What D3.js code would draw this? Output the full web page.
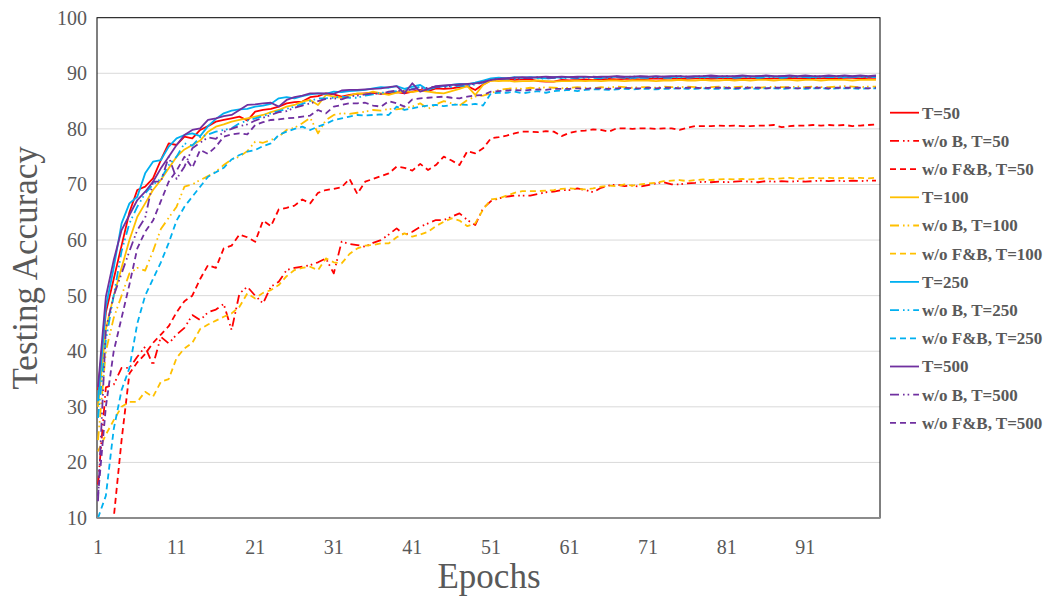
<!DOCTYPE html>
<html>
<head>
<meta charset="utf-8">
<script src="https://cdn.jsdelivr.net/npm/d3@7"></script>
<style>
  body { margin: 0; background: #fff; }
  svg { display: block; font-family: "Liberation Serif", "Times New Roman", serif; }
</style>
</head>
<body>
<svg id="chart" width="1048" height="597"></svg>
<script>
// epochs 1..100
var epochs = d3.range(1, 101);
var xTicks = [1, 11, 21, 31, 41, 51, 61, 71, 81, 91];
var yTicks = [10, 20, 30, 40, 50, 60, 70, 80, 90, 100];

// T=50
var s50 = [33, 47, 53, 59, 65, 69, 69.6, 71.1, 74.4, 77.4,
  77.1, 78.6, 78.3, 79.8, 80.5, 81.3, 81.6, 81.9, 82.2, 81.5,
  83.1, 83.4, 83.6, 84, 84.6, 84.8, 84.9, 85.7, 85.9, 86.4,
  86.2, 85.8, 86.1, 86.3, 86.4, 86.5, 86.3, 86.4, 86.6, 86.4,
  86.7, 87, 86.8, 87.3, 87.2, 87.3, 87.5, 87.7, 87, 88,
  88.7, 88.9, 89, 88.8, 88.9, 88.9, 88.6, 88.5, 88.5, 88.8,
  88.7, 88.8, 88.9, 88.8, 88.9, 89, 88.9, 89, 89, 88.9,
  89, 89.1, 89, 89.1, 89, 89, 89.1, 89.1, 89, 89.1,
  89.1, 89, 89.1, 89.1, 89.1, 89, 89.1, 89.1, 89.2, 89.1,
  89.1, 89.2, 89.1, 89.2, 89.1, 89.2, 89.2, 89.1, 89.2, 89.2];
var b50 = [16, 33.5, 34, 37, 37, 39, 40.8, 37.5, 42.6, 41.4,
  43, 44.2, 46.5, 45.6, 47, 47.5, 48.5, 43.8, 50.4, 51.6,
  50, 48.6, 51.6, 52.5, 54.6, 55, 55.2, 55.5, 56, 56.7,
  54, 59.7, 59.3, 59.1, 58.8, 59.5, 60, 61, 62.1, 60.9,
  61.5, 62.4, 63, 63.6, 63.6, 64.2, 64.8, 63.6, 62.7, 65.7,
  67, 67.5, 67.8, 68, 68, 68, 68.3, 68.6, 68.7, 69,
  69, 69.3, 69, 68.6, 69.4, 69.8, 70, 69.7, 69.8, 69.6,
  69.9, 70.2, 70.4, 70, 70, 70.2, 70.3, 70.5, 70.4, 70.5,
  70.4, 70.5, 70.6, 70.5, 70.4, 70.6, 70.5, 70.6, 70.5, 70.6,
  70.5, 70.6, 70.7, 70.6, 70.7, 70.6, 70.7, 70.6, 70.7, 70.7];
var f50 = [10, 10, 10, 24, 36, 38, 39.5, 41.5, 43, 44.5,
  47, 49, 50, 53, 55.5, 55, 58.5, 59, 61, 60.5,
  59.7, 63.5, 62.5, 65.5, 65.8, 66.2, 67.3, 66.6, 68.5, 69,
  69.2, 69.5, 71, 68.3, 70.5, 71, 71.5, 72, 73.2, 73,
  72.5, 73.7, 72.6, 73.5, 75, 74.3, 73.5, 76, 75.6, 76.5,
  78.3, 78.5, 78.8, 79.2, 79.5, 79.5, 79.4, 79.6, 79.5, 78.7,
  79.3, 79.6, 79.7, 79.9, 79.8, 79.5, 80.1, 80.1, 80, 80.1,
  80.1, 80, 80.1, 80.1, 79.8, 80.2, 80.5, 80.5, 80.5, 80.6,
  80.5, 80.6, 80.5, 80.5, 80.6, 80.6, 80.7, 80.3, 80.5, 80.6,
  80.6, 80.7, 80.6, 80.7, 80.6, 80.7, 80.5, 80.6, 80.7, 80.8];

// T=100
var s100 = [30, 44, 50, 55, 60, 64.2, 66.6, 69, 70.8, 72.9,
  75, 76.3, 77.1, 77.9, 79.5, 80.4, 80.8, 81.3, 81.6, 81.9,
  82.2, 82.5, 83, 83.4, 84, 84.3, 84.9, 85.2, 84.3, 86.1,
  85.8, 85.6, 86, 86.4, 86.3, 86.7, 86.4, 86.1, 86.5, 86.8,
  86.6, 86.9, 86.7, 86.5, 86.4, 86.8, 87.2, 87.7, 86.1, 87.9,
  88.7, 88.6, 88.7, 88.5, 88.6, 88.6, 88.7, 88.6, 88.5, 88.6,
  88.6, 88.7, 88.6, 88.7, 88.6, 88.7, 88.7, 88.6, 88.7, 88.7,
  88.7, 88.6, 88.7, 88.7, 88.8, 88.7, 88.7, 88.8, 88.7, 88.7,
  88.8, 88.7, 88.8, 88.7, 88.8, 88.8, 88.7, 88.8, 88.8, 88.7,
  88.8, 88.8, 88.7, 88.8, 88.8, 88.8, 88.7, 88.8, 88.8, 88.8];
var b100 = [24, 40, 46, 50, 54, 55, 54.5, 58, 62, 64,
  66, 69.6, 70, 70.8, 71.5, 72.3, 73.5, 74.5, 75, 76,
  77.7, 77.5, 78, 78.6, 79.8, 80.2, 81, 82, 79.2, 81.6,
  82.5, 82.8, 82.7, 82.9, 83.1, 83.4, 83.3, 83.6, 83.5, 83.7,
  84, 84.6, 83.6, 84.4, 85, 84.6, 84.2, 85.2, 85.8, 86,
  86.4, 87, 87.2, 87.3, 87.2, 87.4, 87.3, 87.5, 87.4, 87.3,
  87.4, 87.5, 87.4, 87.3, 87.5, 87.4, 87.6, 87.5, 87.4, 87.5,
  87.5, 87.4, 87.6, 87.5, 87.5, 87.6, 87.5, 87.4, 87.5, 87.6,
  87.5, 87.5, 87.6, 87.5, 87.4, 87.5, 87.6, 87.5, 87.5, 87.6,
  87.5, 87.6, 87.5, 87.5, 87.6, 87.7, 87.6, 87.5, 87.6, 87.6];
var f100 = [22, 25, 27.6, 30, 30.9, 30.9, 32.7, 31.8, 34.5, 35,
  38.8, 40.5, 41.5, 44, 44.8, 45.5, 46.2, 46.8, 48, 50.4,
  49.5, 50.5, 51, 51.9, 53.5, 54.6, 55, 55.2, 54.6, 56.7,
  56, 55.8, 57.5, 58.5, 59, 59.1, 59.4, 59.4, 60.5, 61.2,
  60.6, 61, 61.5, 62.5, 63.3, 63.9, 63.5, 62.5, 63, 65.5,
  67.3, 67.5, 68, 68.5, 68.8, 68.8, 68.8, 68.9, 69, 69.2,
  69.3, 69.2, 69.1, 69.3, 69.6, 69.8, 69.7, 70, 69.8, 70,
  70.2, 70.3, 70.6, 70.7, 70.8, 70.6, 70.8, 70.9, 70.8, 70.9,
  71, 70.9, 71, 70.9, 71, 71.1, 71, 71.1, 71.2, 71,
  71.1, 71.2, 71.1, 71.2, 71.1, 71.2, 71.1, 71.2, 71.1, 71.2];

// T=250
var s250 = [31, 48, 55, 63, 66.6, 67.8, 72, 74.1, 74.4, 76.8,
  78.3, 78.9, 79.2, 78.7, 80.5, 81.8, 82.8, 83.3, 83.5, 83.6,
  84, 84.2, 84.5, 85.5, 85.7, 85.5, 85.9, 86.2, 86.4, 86.3,
  86.7, 86.6, 86.8, 86.9, 87, 87.3, 87.5, 87.4, 87.7, 87.2,
  87.6, 87.9, 87, 87.6, 87.7, 87.9, 88.1, 88, 88.3, 88.7,
  89.1, 89.2, 89.1, 89.3, 89.2, 89.3, 89.2, 89.1, 89.3, 89.2,
  89.3, 89.2, 89.3, 89.3, 89.2, 89.3, 89.4, 89.3, 89.2, 89.3,
  89.3, 89.4, 89.3, 89.3, 89.4, 89.3, 89.4, 89.3, 89.4, 89.3,
  89.4, 89.3, 89.4, 89.4, 89.3, 89.4, 89.4, 89.3, 89.4, 89.4,
  89.4, 89.3, 89.4, 89.4, 89.4, 89.3, 89.4, 89.4, 89.4, 89.4];
var b250 = [28, 42, 50, 58, 63, 66, 68.4, 70, 71, 73.5,
  75, 77.4, 77, 78.5, 79, 79.5, 79.8, 80.1, 81, 81.5,
  81.9, 82.3, 82.8, 83.2, 83.6, 84, 84.5, 85, 85.5, 85.5,
  85.6, 85.8, 85.6, 85.6, 86, 86.2, 86.5, 86.6, 86.8, 87,
  87.2, 87.6, 87.1, 87.5, 87.7, 87.5, 87.8, 87.7, 88, 88.3,
  88.9, 89, 89.1, 89, 89.1, 89.2, 89.1, 89, 89.2, 89.1,
  89.2, 89.1, 89.2, 89.2, 89.1, 89.2, 89.3, 89.2, 89.1, 89.2,
  89.2, 89.3, 89.2, 89.2, 89.3, 89.2, 89.3, 89.2, 89.3, 89.2,
  89.3, 89.2, 89.3, 89.3, 89.2, 89.3, 89.3, 89.2, 89.3, 89.3,
  89.3, 89.2, 89.3, 89.3, 89.3, 89.2, 89.3, 89.3, 89.3, 89.3];
var f250 = [10, 14, 26, 33, 37, 45, 50, 53, 56, 59.5,
  63.5, 66, 67.8, 69.6, 71.4, 72.2, 73, 74.5, 75.3, 75.9,
  76.2, 76.9, 77.4, 78.9, 79.5, 80, 80.4, 79.8, 80.4, 80.9,
  81.6, 81.9, 82.2, 82.5, 82.4, 82.5, 82.6, 82.5, 84, 83.4,
  83.7, 84, 84.2, 84.3, 84.1, 84.3, 84.4, 84.3, 84.5, 84.2,
  86.4, 86.5, 86.5, 86.7, 86.4, 86.6, 86.8, 86.5, 86.8, 86.9,
  87, 86.8, 87, 87.1, 87.1, 87, 87.1, 87.2, 87.1, 87.2,
  87.2, 87.1, 87.2, 87.2, 87.3, 87.2, 87.2, 87.3, 87.2, 87.2,
  87.3, 87.2, 87.2, 87.3, 87.2, 87.3, 87.3, 87.2, 87.3, 87.3,
  87.2, 87.3, 87.3, 87.2, 87.3, 87.3, 87.3, 87.2, 87.3, 87.3];

// T=500
var s500 = [33.6, 49.8, 56.4, 61.8, 64.5, 67.2, 68.7, 70.5, 72.9, 75,
  77.1, 78.9, 79.8, 80.1, 81.6, 81.9, 82.3, 82.5, 83.4, 84.3,
  84.4, 84.6, 84.7, 84, 85.2, 85.7, 86, 86.4, 86.4, 86.4,
  86.3, 86.9, 87, 87, 87.1, 87.2, 87.3, 87.5, 87.7, 86.4,
  88.2, 86.7, 87.2, 87.7, 87.8, 87.9, 88, 88.1, 88.2, 88.4,
  88.8, 89, 89.1, 89.2, 89.3, 89.2, 89.3, 89.4, 89.3, 89.4,
  89.3, 89.4, 89.4, 89.3, 89.4, 89.4, 89.5, 89.4, 89.4, 89.5,
  89.4, 89.5, 89.4, 89.5, 89.5, 89.4, 89.5, 89.5, 89.6, 89.5,
  89.5, 89.5, 89.6, 89.5, 89.5, 89.6, 89.5, 89.5, 89.6, 89.5,
  89.6, 89.5, 89.5, 89.6, 89.5, 89.6, 89.5, 89.6, 89.5, 89.6];
var b500 = [13, 44, 50, 54, 58, 61.8, 64, 70.5, 70.5, 75,
  71, 73.2, 76.5, 77.5, 78.5, 78.2, 79.5, 80, 80.5, 80.8,
  81.5, 82, 82.5, 83, 83.2, 83.8, 84.2, 84.6, 85, 85.4,
  85.5, 85.3, 85.8, 86, 86.2, 86.4, 86.3, 86.7, 86.9, 86.8,
  87.1, 87.3, 87.4, 87.6, 87.5, 87.7, 87.9, 88, 88.1, 88.4,
  88.8, 89, 89.1, 89.2, 89.1, 89.2, 89.3, 89.2, 89.2, 89.3,
  89.3, 89.2, 89.3, 89.4, 89.3, 89.3, 89.4, 89.3, 89.4, 89.4,
  89.4, 89.3, 89.4, 89.4, 89.5, 89.4, 89.4, 89.5, 89.4, 89.4,
  89.5, 89.4, 89.5, 89.4, 89.5, 89.5, 89.4, 89.5, 89.5, 89.4,
  89.5, 89.5, 89.4, 89.5, 89.5, 89.5, 89.4, 89.5, 89.5, 89.5];
var f500 = [14, 30, 40, 46, 52, 58.5, 61.5, 63.5, 67, 70.5,
  72.5, 75, 73, 76.2, 75.5, 76.8, 78.6, 79, 79.2, 79,
  80.7, 81.2, 81.6, 81.7, 81.9, 82, 82.2, 82.4, 83.4, 82.8,
  84, 84.3, 84.6, 84.6, 84.7, 84.2, 84, 85, 84.6, 84,
  85.3, 85.5, 85.6, 85.7, 85.8, 85.6, 85.5, 85.8, 86, 86.1,
  86.7, 86.8, 86.9, 87, 86.9, 87, 87.1, 87, 87.2, 87.2,
  87.2, 87.3, 87.2, 87.3, 87.3, 87.2, 87.3, 87.4, 87.3, 87.3,
  87.4, 87.3, 87.4, 87.4, 87.3, 87.4, 87.4, 87.3, 87.4, 87.4,
  87.4, 87.3, 87.4, 87.4, 87.4, 87.3, 87.4, 87.4, 87.4, 87.3,
  87.4, 87.4, 87.4, 87.3, 87.4, 87.4, 87.4, 87.4, 87.3, 87.4];

var seriesNames = ["T=50", "w/o B, T=50", "w/o F&B, T=50",
  "T=100", "w/o B, T=100", "w/o F&B, T=100",
  "T=250", "w/o B, T=250", "w/o F&B, T=250",
  "T=500", "w/o B, T=500", "w/o F&B, T=500"];
var seriesValues = [s50, b50, f50, s100, b100, f100, s250, b250, f250, s500, b500, f500];
var seriesColors = ["#ff0000", "#ff0000", "#ff0000", "#ffc000", "#ffc000", "#ffc000",
  "#00b0f0", "#00b0f0", "#00b0f0", "#7030a0", "#7030a0", "#7030a0"];
// solid / long dash dot dot / dash
var dashes = [null, "9,4,1.6,3,1.6,4", "6,4"];

var svg = d3.select("#chart");
// plot box (note: "top" is taken by window.top, so prefix these)
var plotL = 97, plotR = 880, plotT = 17.7, plotB = 518;
var textColor = "#595959";

var x = d3.scaleLinear().domain([1, 100]).range([98, 876]);
var y = d3.scaleLinear().domain([10, 100]).range([plotB, plotT]);

// gridlines
svg.append("g").selectAll("line")
  .data(yTicks.filter(function(d) { return d > 10 && d < 100; }))
  .enter().append("line")
  .attr("x1", plotL).attr("x2", plotR)
  .attr("y1", function(d) { return y(d); })
  .attr("y2", function(d) { return y(d); })
  .attr("stroke", "#d9d9d9").attr("stroke-width", 1);

// plot frame
svg.append("rect")
  .attr("x", plotL).attr("y", plotT)
  .attr("width", plotR - plotL).attr("height", plotB - plotT)
  .attr("fill", "none").attr("stroke", "#000").attr("stroke-width", 1);

// lines
var line = d3.line()
  .x(function(d, i) { return x(epochs[i]); })
  .y(function(d) { return y(d); });

var plot = svg.append("g");
seriesValues.forEach(function(vals, k) {
  plot.append("path")
    .datum(vals)
    .attr("d", line)
    .attr("fill", "none")
    .attr("stroke", seriesColors[k])
    .attr("stroke-width", 1.8)
    .attr("stroke-linejoin", "round")
    .attr("stroke-dasharray", dashes[k % 3]);
});

// bottom axis line (grey, drawn over the frame)
svg.append("line")
  .attr("x1", plotL).attr("x2", plotR)
  .attr("y1", plotB).attr("y2", plotB)
  .attr("stroke", "#8c8c8c").attr("stroke-width", 2);

// tick labels
svg.append("g").selectAll("text")
  .data(yTicks).enter().append("text")
  .attr("x", 87)
  .attr("y", function(d) { return y(d); })
  .attr("dy", "0.35em")
  .attr("text-anchor", "end")
  .attr("fill", textColor)
  .style("font-size", "20px")
  .text(function(d) { return d; });

svg.append("g").selectAll("text")
  .data(xTicks).enter().append("text")
  .attr("x", function(d) { return x(d); })
  .attr("y", 554)
  .attr("text-anchor", "middle")
  .attr("fill", textColor)
  .style("font-size", "20px")
  .text(function(d) { return d; });

// axis titles
svg.append("text")
  .attr("x", 489).attr("y", 588)
  .attr("text-anchor", "middle")
  .attr("fill", textColor)
  .style("font-size", "35px")
  .text("Epochs");

svg.append("text")
  .attr("transform", "translate(37," + ((plotT + plotB) / 2) + ") rotate(-90)")
  .attr("text-anchor", "middle")
  .attr("fill", textColor)
  .style("font-size", "35px")
  .text("Testing Accuracy");

// legend
var legend = svg.append("g");
seriesNames.forEach(function(name, k) {
  var ly = 112.7 + k * 28.2;
  legend.append("line")
    .attr("x1", 890).attr("x2", 919)
    .attr("y1", ly).attr("y2", ly)
    .attr("stroke", seriesColors[k])
    .attr("stroke-width", 1.8)
    .attr("stroke-dasharray", dashes[k % 3]);
  legend.append("text")
    .attr("x", 922).attr("y", ly)
    .attr("dy", "0.35em")
    .attr("fill", textColor)
    .style("font-size", "17px")
    .style("font-weight", "bold")
    .text(name);
});
</script>
</body>
</html>
